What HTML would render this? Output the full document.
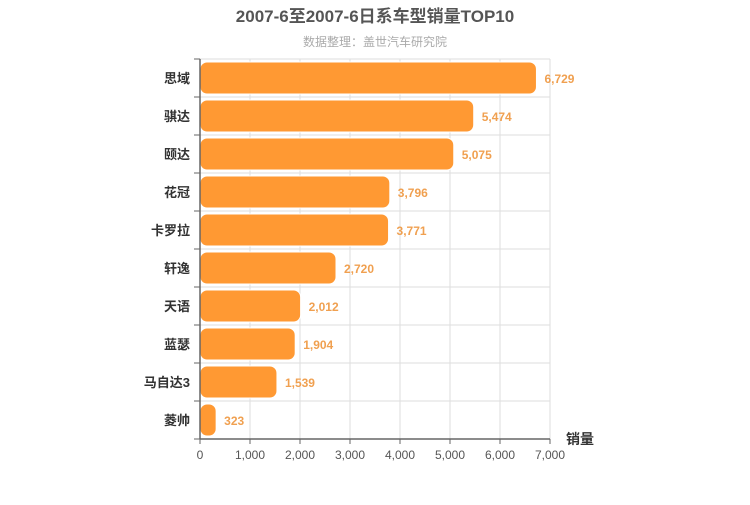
<!DOCTYPE html>
<html><head><meta charset="utf-8"><style>
body{margin:0;background:#fff;}
svg text{font-family:"Liberation Sans","Noto Sans CJK SC",sans-serif;}
</style></head><body>
<svg id="chart" width="750" height="500">
<text x="375" y="22" text-anchor="middle" font-size="17" font-weight="bold" fill="#555">2007-6至2007-6日系车型销量TOP10</text>
<text x="375" y="46" text-anchor="middle" font-size="12" fill="#aaa">数据整理：盖世汽车研究院</text>
<g id="grid"></g><g id="bars"></g><g id="axes"></g>
<text x="580" y="444" text-anchor="middle" font-size="14" font-weight="bold" fill="#333">销量</text>
</svg>
<script>
const categories=["思域","骐达","颐达","花冠","卡罗拉","轩逸","天语","蓝瑟","马自达3","菱帅"];
const values=[6729,5474,5075,3796,3771,2720,2012,1904,1539,323];
const xTicks=[0,1000,2000,3000,4000,5000,6000,7000];
const x0=200,x1=550,xMax=7000,yTop=59,band=38;
const xs=v=>x0+(v/xMax)*(x1-x0);
const yb=i=>yTop+i*band;
const NS="http://www.w3.org/2000/svg";
function mk(parent,tag,attrs){const e=document.createElementNS(NS,tag);for(const k in attrs)e.setAttribute(k,attrs[k]);parent.appendChild(e);return e;}
const grid=document.getElementById('grid'),bars=document.getElementById('bars'),axes=document.getElementById('axes');
const yBot=yb(categories.length);
xTicks.forEach(t=>{
 const l=mk(grid,'line',{x1:xs(t),x2:xs(t),y1:yTop,y2:yBot,stroke:'#ddd'});
 
 
 const tk=mk(axes,'line',{x1:xs(t),x2:xs(t),y1:yBot,y2:yBot+5,stroke:'#666'});
 
 
 const tx=mk(axes,'text',{x:xs(t),y:yBot+20,'text-anchor':'middle','font-size':12,fill:'#555'});
 tx.textContent=t.toLocaleString('en-US');
 
 
});
for(let i=0;i<=categories.length;i++){
 const l=mk(grid,'line',{x1:x0,x2:x1,y1:yb(i),y2:yb(i),stroke:'#ddd'});
 
 
 const tk=mk(axes,'line',{x1:x0-6,x2:x0,y1:yb(i),y2:yb(i),stroke:'#666'});
 
 
}
categories.forEach((c,i)=>{
 const cy=yb(i)+band/2;
 const r=mk(bars,'rect',{x:x0,y:cy-16,width:xs(values[i])-x0,height:32,rx:7,fill:'#ff9933',stroke:'#fff','stroke-width':1});
 
 
 const v=mk(bars,'text',{x:xs(values[i])+8,y:cy+5,'font-size':12,fill:'#f0a050','font-weight':'bold'});
 v.textContent=values[i].toLocaleString('en-US');
 
 
 const lb=mk(axes,'text',{x:x0-10,y:cy+5,'text-anchor':'end','font-size':13,'font-weight':'bold',fill:'#333'});
 lb.textContent=c;
 
 
});
const ax=mk(axes,'line',{x1:x0,x2:x0,y1:yTop,y2:yBot,stroke:'#666','stroke-width':1.5});


const bx=mk(axes,'line',{x1:x0,x2:x1,y1:yBot,y2:yBot,stroke:'#666','stroke-width':1.5});


</script>
</body></html>
